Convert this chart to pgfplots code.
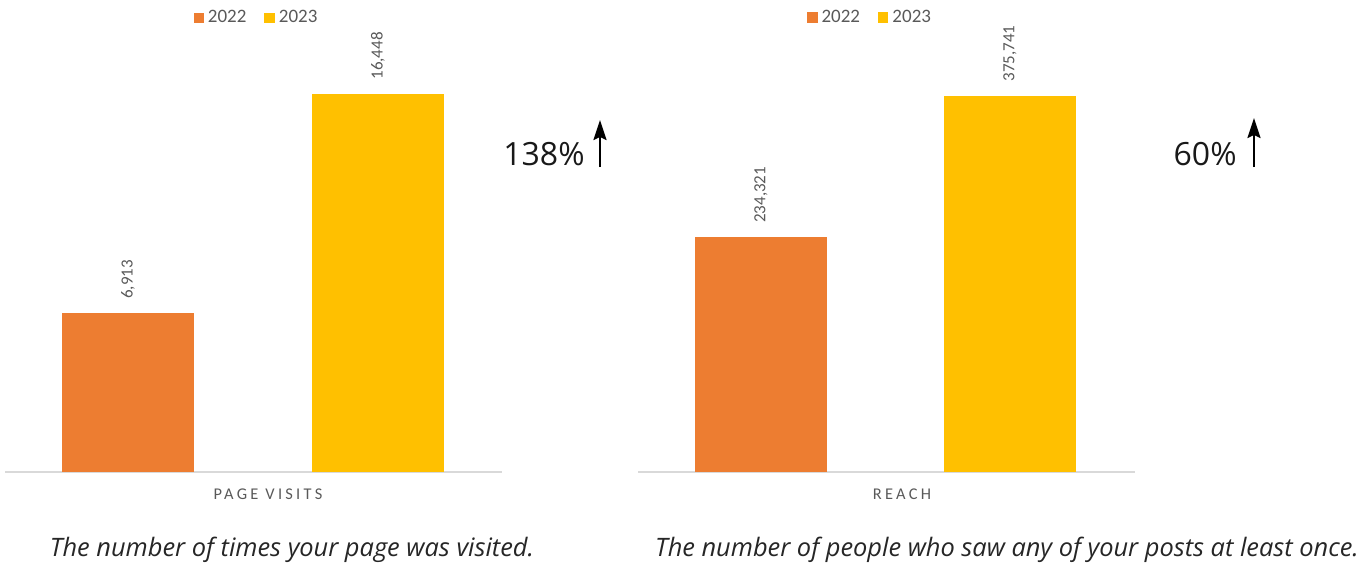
\documentclass[border=0pt]{standalone}
\usepackage{fontspec}
\usepackage{pgfplots}
\pgfplotsset{compat=1.18}
\usetikzlibrary{arrows.meta}
\setmainfont{Carlito}
\newfontfamily\capfont{Open Sans}
\newfontfamily\spacedfont[LetterSpace=20]{Carlito}
\definecolor{cOrange}{HTML}{ED7D31}
\definecolor{cYellow}{HTML}{FFC000}
\definecolor{cGray}{HTML}{595959}
\definecolor{cLine}{HTML}{D9D9D9}
\definecolor{cText}{HTML}{262626}
\pgfplotsset{
  mybar/.style={
    scale only axis,
    width=248.5pt, height=216pt,
    ymin=0,
    axis y line=none,
    axis x line*=bottom,
    x axis line style={-, draw=cLine, line width=1pt},
    xtick=\empty, ytick=\empty,
    major tick length=0pt,
    clip=false,
    ybar, bar width=66pt, bar shift=0pt,
    nodes near coords={\pgfmathprintnumber[fixed, precision=0, 1000 sep={,}, assume math mode=true]{\pgfplotspointmeta}},
    every node near coord/.append style={font=\fontsize{8.5}{10}\selectfont, text=cGray, rotate=90, anchor=west, inner sep=0pt, xshift=7pt},
    legend style={draw=none, fill=none, font=\fontsize{9.5}{11}\selectfont, text=cGray, legend columns=2,
      /tikz/every even column/.append style={column sep=7pt}, anchor=center},
  },
  sq/.style={legend image code/.code={\fill[##1, draw=none] (0pt,-2.6pt) rectangle (5.2pt,2.6pt);}},
}
\begin{document}
\begin{tikzpicture}
\path[use as bounding box] (0,0) rectangle (686pt,282pt);
% left chart
\begin{axis}[mybar, at={(2.5pt,46pt)}, anchor=south west,
  xmin=5, xmax=502, ymax=18792,
  legend style={at={(0.508,1.051)}}]
\addplot[fill=cOrange, draw=none, sq] coordinates {(128,6913)};
\addplot[fill=cYellow, draw=none, sq] coordinates {(378,16448)};
\legend{2022,2023}
\end{axis}
% right chart
\begin{axis}[mybar, at={(319pt,46.25pt)}, anchor=south west,
  xmin=638, xmax=1135, ymax=432000,
  legend style={at={(0.469,1.051)}}]
\addplot[fill=cOrange, draw=none, sq] coordinates {(761,234321)};
\addplot[fill=cYellow, draw=none, sq] coordinates {(1010,375741)};
\legend{2022,2023}
\end{axis}
% category labels
\node[text=cGray, font=\spacedfont\fontsize{8.2}{10}\selectfont, inner sep=0pt] at (134pt,35pt) {PAGE VISITS};
\node[text=cGray, font=\spacedfont\fontsize{8.2}{10}\selectfont, inner sep=0pt] at (451pt,35pt) {REACH};
% percentages
\node[anchor=base east, font=\capfont\fontsize{16}{18}\selectfont, text=black!90, inner sep=0pt] at (292.5pt,199.5pt) {138\%};
\draw[line width=1pt, -{Stealth[length=10pt,width=6.5pt,inset=1.5pt]}] (300pt,198.5pt) -- (300pt,222pt);
\node[anchor=base east, font=\capfont\fontsize{16}{18}\selectfont, text=black!90, inner sep=0pt] at (618.5pt,199.5pt) {60\%};
\draw[line width=1pt, -{Stealth[length=10pt,width=6.5pt,inset=1.5pt]}] (627pt,198.5pt) -- (627pt,223pt);
% captions
\node[anchor=base, font=\capfont\itshape\fontsize{12.7}{14}\selectfont, text=cText, inner sep=0pt] at (146pt,4pt) {The number of times your page was visited.};
\node[anchor=base, font=\capfont\itshape\fontsize{12.7}{14}\selectfont, text=cText, inner sep=0pt] at (503.5pt,4pt) {The number of people who saw any of your posts at least once.};
\end{tikzpicture}
\end{document}
